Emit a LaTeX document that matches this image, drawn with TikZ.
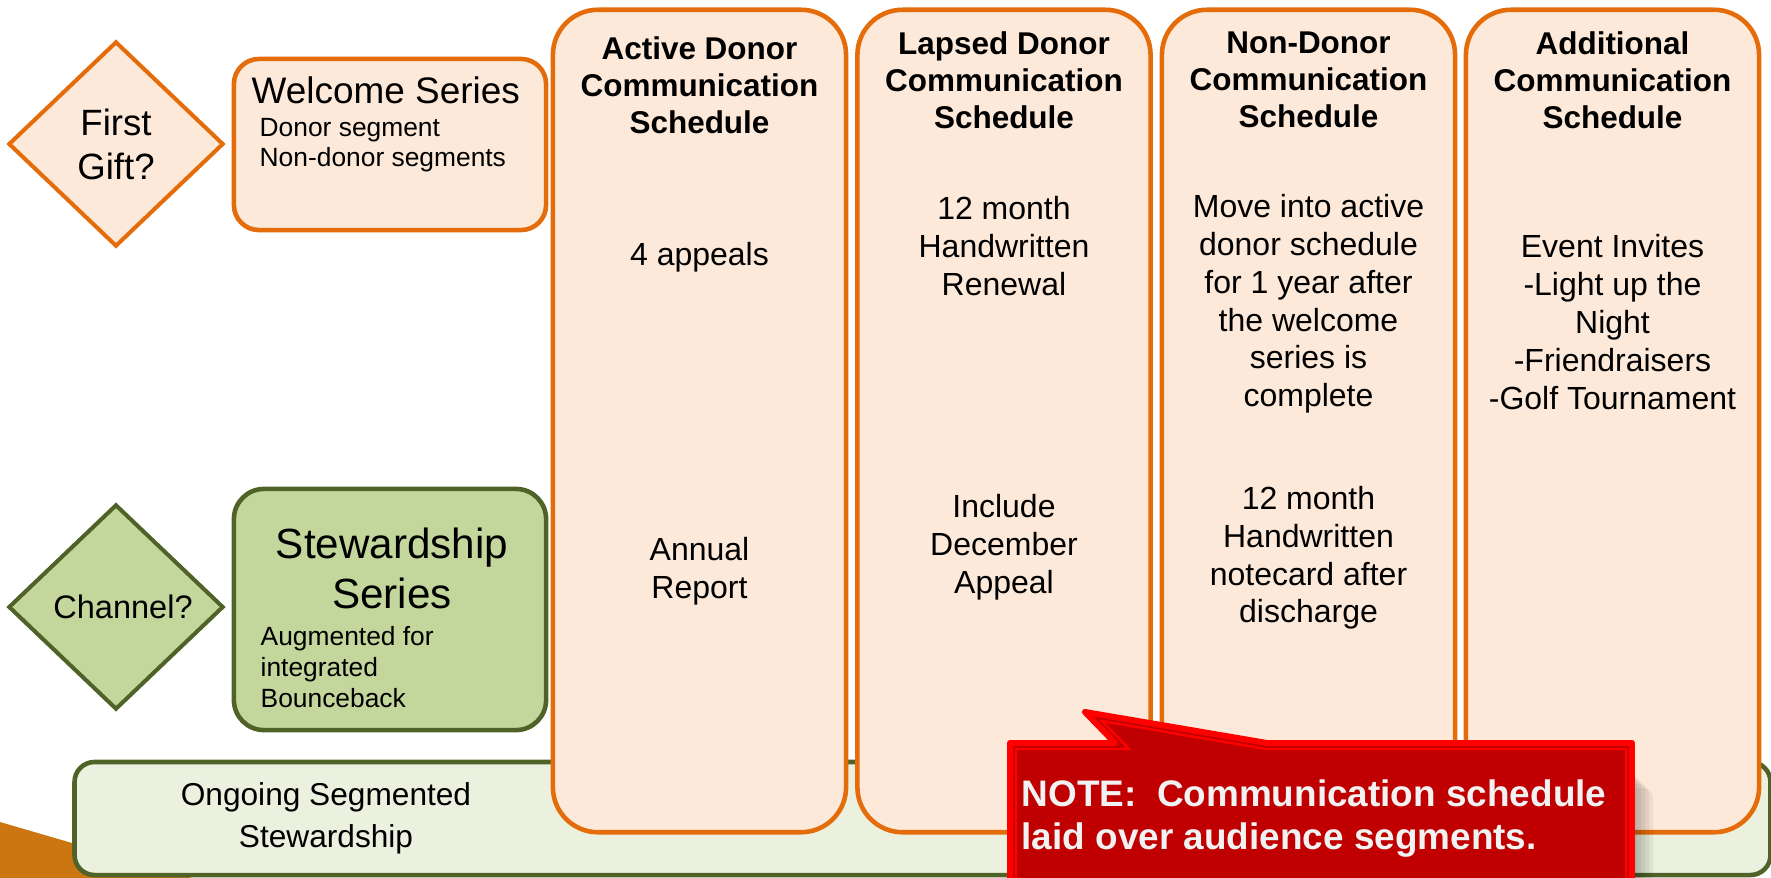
\documentclass[tikz,border=0pt]{standalone}
\usepackage{fontspec}
\setmainfont{Liberation Sans}
\usetikzlibrary{shapes.geometric}
\definecolor{schedorange}{RGB}{228,108,10}
\definecolor{schedfill}{RGB}{253,233,217}
\definecolor{stewgreen}{RGB}{79,98,40}
\definecolor{stewfill}{RGB}{195,214,155}
\definecolor{ongoingfill}{RGB}{235,241,222}
\definecolor{notefill}{RGB}{192,0,0}
\definecolor{notetext}{RGB}{242,242,242}
\definecolor{wedgeorange}{RGB}{204,118,18}

\begin{document}
\begin{tikzpicture}[x=0.01cm,y=-0.01cm,
    col node/.style={rectangle,rounded corners=0.45cm,draw=schedorange,fill=schedfill,line width=1.3pt,minimum width=2.93cm,minimum height=8.22cm},
    head text/.style={align=center,inner sep=0pt,font=\bfseries\fontsize{8.95pt}{10.5pt}\selectfont},
    body text/.style={align=center,inner sep=0pt,font=\fontsize{9.1pt}{10.75pt}\selectfont},
    ask node/.style={diamond,line width=1.15pt,minimum width=2.15cm,minimum height=2.05cm,inner sep=0pt},
    small list/.style={align=left,inner sep=0pt,anchor=west,font=\fontsize{7.5pt}{8.5pt}\selectfont}]
   \useasboundingbox (0,0) rectangle (1771,878);
   % background wedge, bottom left
   \fill[wedgeorange] (0,822) -- (192,878) -- (0,878) -- cycle;
   % audience segments
   \node[rectangle,rounded corners=0.2cm,draw=stewgreen,fill=ongoingfill,line width=1.3pt,minimum width=16.95cm,minimum height=1.13cm] (ongoing) at (922.5,818.5) {};
   \node[align=center,inner sep=0pt,font=\fontsize{9pt}{12pt}\selectfont] (ongoingtxt) at (326,818.5) {Ongoing Segmented\\Stewardship};
   \node[ask node,draw=schedorange,fill=schedfill,align=center,font=\fontsize{10.4pt}{12.5pt}\selectfont] (gift) at (116,144) {First\\Gift?};
   \node[ask node,draw=stewgreen,fill=stewfill,font=\fontsize{9.25pt}{11pt}\selectfont] (channel) at (116,607) {\hspace{4pt}Channel?};
   \node[rectangle,rounded corners=0.25cm,draw=schedorange,fill=schedfill,line width=1.3pt,minimum width=3.12cm,minimum height=1.71cm] (welcome) at (390,144.5) {};
   \node[inner sep=0pt,anchor=west,font=\fontsize{10.5pt}{12pt}\selectfont] (welcometxt) at (251,90) {Welcome Series};
   \node[small list] (welcomelist) at (259,145.5) {Donor segment\\Non-donor segments};
   \node[rectangle,rounded corners=0.3cm,draw=stewgreen,fill=stewfill,line width=1.3pt,minimum width=3.12cm,minimum height=2.41cm] (steward) at (390,609.5) {};
   \node[align=center,inner sep=0pt,font=\fontsize{12pt}{14.2pt}\selectfont] (stewardtxt) at (392,568) {Stewardship\\Series};
   \node[small list,font=\fontsize{7.5pt}{8.8pt}\selectfont] (stewardlist) at (260,667) {Augmented for\\integrated\\Bounceback};
   % communication schedules
   \node[col node] (active) at (699.5,421) {};
   \node[col node] (lapsed) at (1004,421) {};
   \node[col node] (nondonor) at (1308.5,421) {};
   \node[col node] (additional) at (1612.5,421) {};
   \node[head text] (acth) at (699.5,85) {Active Donor\\Communication\\Schedule};
   \node[head text] (lapsh) at (1004,80) {Lapsed Donor\\Communication\\Schedule};
   \node[head text] (nonh) at (1308.5,80) {Non-Donor\\Communication\\Schedule};
   \node[head text] (addh) at (1612.5,80) {Additional\\Communication\\Schedule};
   \node[body text] (act1) at (699.5,257) {4 appeals};
   \node[body text] (act2) at (699.5,571) {Annual\\Report};
   \node[body text] (laps1) at (1004,246) {12 month\\Handwritten\\Renewal};
   \node[body text] (laps2) at (1004,547) {Include\\December\\Appeal};
   \node[body text] (non1) at (1308.5,304) {Move into active\\donor schedule\\for 1 year after\\the welcome\\series is\\complete};
   \node[body text] (non2) at (1308.5,558) {12 month\\Handwritten\\notecard after\\discharge};
   \node[body text] (add1) at (1612.5,322) {Event Invites\\-Light up the\\Night\\-Friendraisers\\-Golf Tournament};
   % note callout, soft shadow first
   \foreach \s in {3,7,11,15,19,23}
      \fill[black,opacity=0.055,rounded corners=0.1cm] (1030,765+\s) rectangle (1630+\s,920);
   \coordinate (tip) at (1085,712);
   \coordinate (baseleft) at (1115,743);
   \coordinate (baseright) at (1267,743);
   \fill[notefill,draw=red,line width=1.7pt,line join=round]
      (1010,743) -- (baseleft) -- (tip) -- (baseright) -- (1632,743) -- (1632,920) -- (1010,920) -- cycle;
   \draw[red,line width=0.7pt] (1016,920) -- (1016,749) -- (1129,749) -- (1102,721) -- (1266,749) -- (1626,749) -- (1626,920);
   \node[align=left,anchor=west,inner sep=0pt,text=notetext,font=\bfseries\fontsize{10.5pt}{12pt}\selectfont] (notetxt) at (1021,818.5) {NOTE:\ \ Communication schedule\\laid over audience segments.};
\end{tikzpicture}
\end{document}
